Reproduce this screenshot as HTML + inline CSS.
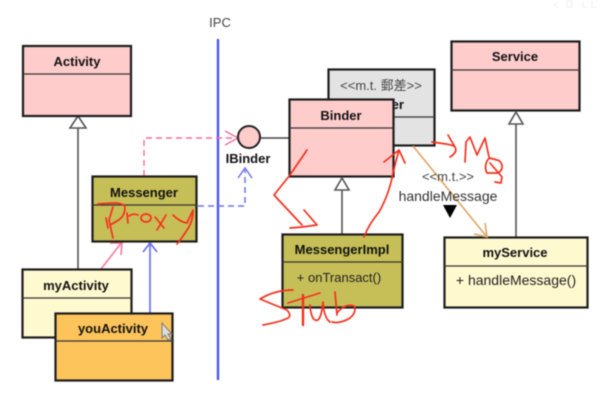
<!DOCTYPE html>
<html><head><meta charset="utf-8"><style>
html,body{margin:0;padding:0;background:#fff;width:604px;height:413px;overflow:hidden}
svg{display:block;filter:blur(.55px)}
text{font-family:"Liberation Sans","Noto Sans CJK TC",sans-serif;fill:#222;text-anchor:middle}
.b{font-weight:bold;font-size:13px;fill:#111}
.n{font-size:14px;fill:#333}
.s{font-size:13px;fill:#444}
.box{stroke:#1c1c1c;stroke-width:2.2}
.d{stroke:#333;stroke-width:1.2}
.l{stroke:#555;stroke-width:1.6;fill:none}
.t{fill:#fff;stroke:#555;stroke-width:1.6}
.r{fill:none;stroke:#f5301c;stroke-width:1.7;stroke-linecap:round;stroke-linejoin:round}
</style></head><body>
<svg width="604" height="413" viewBox="0 0 604 413" xmlns="http://www.w3.org/2000/svg">
<rect width="604" height="413" fill="#fff"/>
<g fill="none" stroke="#f0f0f0" stroke-width="1"><path d="M558 2l-4 3 4 3"/><rect x="567" y="1" width="5" height="6"/><path d="M583 1v6h4M592 1v6h4"/></g>

<text x="220" y="27" class="s">IPC</text>
<line x1="218" y1="39" x2="218" y2="380" stroke="#4b55f5" stroke-width="2.4"/>

<!-- connectors -->
<line x1="78" y1="128" x2="78" y2="269" class="l"/>
<path d="M78 116l8 12H70z" class="t"/>
<line x1="260" y1="138" x2="289" y2="138" stroke="#444" stroke-width="1.4"/>
<path d="M144 176V138H237" fill="none" stroke="#f76c99" stroke-width="1.4" stroke-dasharray="6 4"/>
<path d="M225 131l13 7-13 7" fill="none" stroke="#f76c99" stroke-width="1.4"/>
<path d="M198 206H245V170" fill="none" stroke="#6a70f2" stroke-width="1.5" stroke-dasharray="6 4"/>
<path d="M238 178l7-10 7 10" fill="none" stroke="#6a70f2" stroke-width="1.5"/>
<path d="M101 269L122 242" fill="none" stroke="#f77fa2" stroke-width="1.7"/>
<path d="M110 243h12l-1 12" fill="none" stroke="#f77fa2" stroke-width="1.7"/>
<line x1="150" y1="243" x2="150" y2="313" stroke="#6a70f2" stroke-width="1.7"/>
<path d="M143 252l7-9 7 9" fill="none" stroke="#6a70f2" stroke-width="1.7"/>

<!-- Activity -->
<rect x="23" y="46" width="108" height="70" fill="#ffcccc" class="box"/>
<line x1="23" y1="74" x2="131" y2="74" class="d"/>
<text x="77" y="66" class="b">Activity</text>

<!-- Messenger -->
<rect x="92.500" y="176.500" width="104" height="65" fill="#c6bf58" class="box"/>
<line x1="92" y1="205" x2="197" y2="205" class="d"/>
<text x="144" y="197" class="b">Messenger</text>

<!-- myActivity -->
<rect x="22.500" y="269.500" width="109" height="68" fill="#fff9cf" class="box"/>
<line x1="22" y1="298" x2="132" y2="298" class="d"/>
<text x="76" y="290" class="b">myActivity</text>

<!-- youActivity -->
<rect x="55.500" y="313.500" width="117" height="67" fill="#fec45c" class="box"/>
<line x1="55" y1="341" x2="173" y2="341" class="d"/>
<text x="113" y="333" class="b">youActivity</text>
<path d="M162 323v15l3-3 3 5 3-1-3-5h4z" fill="#ddd" stroke="#777" stroke-width="1"/>

<!-- interface -->
<circle cx="249" cy="137" r="11" fill="#ffcccc" stroke="#222" stroke-width="2"/>
<text x="248" y="163" class="b">IBinder</text>

<!-- gray stereotype -->
<rect x="328.500" y="69.500" width="106" height="76" fill="#e3e3e3" class="box"/>
<line x1="328" y1="117" x2="435" y2="117" class="d"/>
<text x="381" y="90" class="s">&lt;&lt;m.t. 郵差&gt;&gt;</text>
<text x="370" y="109" class="b">Messenger</text>

<!-- Binder -->
<rect x="289.500" y="99.500" width="104" height="77" fill="#ffcccc" class="box"/>
<line x1="289" y1="128" x2="394" y2="128" class="d"/>
<text x="341" y="120" class="b">Binder</text>
<line x1="342" y1="190" x2="342" y2="234" class="l"/>
<path d="M342 178l7 12h-14z" class="t"/>

<!-- Service -->
<rect x="451.500" y="41.500" width="128" height="69" fill="#ffcccc" class="box"/>
<line x1="451" y1="70" x2="580" y2="70" class="d"/>
<text x="515" y="61" class="b">Service</text>
<line x1="516" y1="124" x2="516" y2="237" class="l"/>
<path d="M516 112l7 12h-14z" class="t"/>

<!-- MessengerImpl -->
<rect x="282.500" y="234.500" width="120" height="73" fill="#c6bf58" class="box"/>
<line x1="282" y1="262" x2="403" y2="262" class="d"/>
<text x="342" y="254" class="b">MessengerImpl</text>
<text x="339" y="282" class="s" style="fill:#222">+ onTransact()</text>

<!-- myService -->
<rect x="444.500" y="237.500" width="143" height="70" fill="#fff9cf" class="box"/>
<line x1="444" y1="266" x2="588" y2="266" class="d"/>
<text x="515" y="257" class="b">myService</text>
<text x="516" y="285" class="n" style="fill:#222">+ handleMessage()</text>

<!-- m.t. link -->
<path d="M413 146L487 237" fill="none" stroke="#e0a464" stroke-width="1.6"/>
<path d="M474 234l13 3-2-14" fill="none" stroke="#e0a464" stroke-width="1.6"/>
<text x="448" y="181" class="s">&lt;&lt;m.t.&gt;&gt;</text>
<text x="448" y="201" class="n">handleMessage</text>
<path d="M443 205h14l-7 13z" fill="#000"/>

<!-- red scribbles -->
<g class="r">
<path d="M307 150L290 175L274 195L302 225M290 228L302 227L317 225L304 210"/>
<path d="M364 237C368 226 373 220 379 212C386 200 391 185 393 173C395 165 397 157 399 150M384 162L399 150L405 163"/>
<path d="M432 142L446 144Q453 145 455 147L448 135M455 147Q458 152 450 157"/>
<path d="M465 162L466 142L470 137L477 155L485 138L489 157"/>
<path d="M490 158C486 160 484 168 487 173L498 173Q503 170 502 165Q500 160 497 160L490 158M490 163L502 177L501 183L495 182"/>
<path d="M98 204Q108 203 117 203Q124 204 125 207Q125 215 120 219Q114 223 110 225M113 207L109 220L113 238M106 218L108 228"/>
<path d="M127 213L128 223M129 216Q133 213 138 215"/>
<ellipse cx="146" cy="218" rx="5" ry="4"/>
<path d="M155 217L164 228M166 215L157 230"/>
<path d="M173 215Q180 222 187 223L193 210Q193 222 187 230Q182 238 177 244"/>
<path d="M293 290Q275 290 260 299Q272 304 287 310Q292 316 288 318Q280 322 263 325"/>
<path d="M303 295L303 325" stroke-width="2.4"/>
<path d="M288 303L320 293M310 305Q311 318 315 320Q321 323 323 302Q324 318 330 322"/>
<path d="M335 292L337 315M337 313Q345 303 354 306Q357 312 350 318Q340 324 332 322"/>
</g>
</svg>
</body></html>
